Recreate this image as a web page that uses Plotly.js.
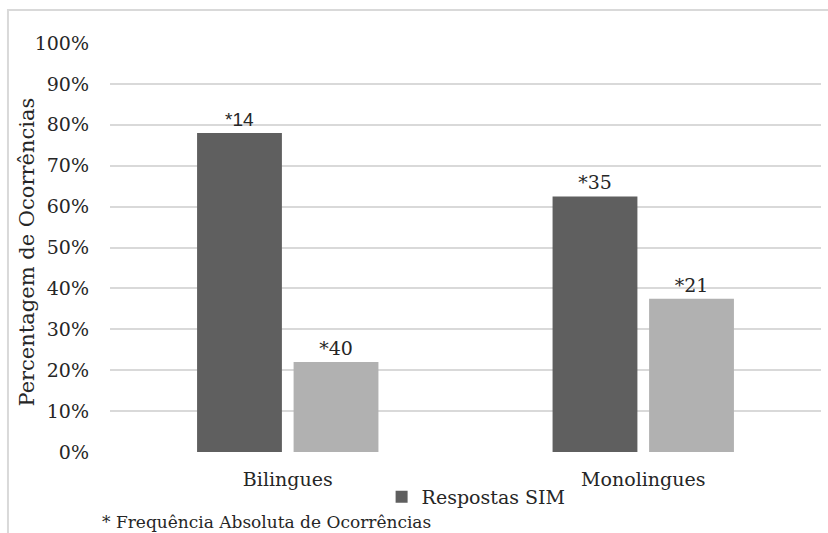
<!DOCTYPE html>
<html>
<head>
<meta charset="utf-8">
<script src="https://cdn.plot.ly/plotly-3.0.1.min.js"></script>
<style>
  html, body { margin: 0; padding: 0; background: #ffffff; }
  #chart { width: 828px; height: 533px; }
</style>
</head>
<body>
<div id="chart"></div>
<script>
// Groups compared
const categories = ['Bilingues', 'Monolingues'];

// Share of occurrences (%) per answer type
const simPercent = [78, 62.5];
const naoPercent = [22, 37.5];

// Absolute frequencies written above each bar
const simFreq = ['*14', '*35'];
const naoFreq = ['*40', '*21'];

// Y axis ticks
const yTickVals = [0, 10, 20, 30, 40, 50, 60, 70, 80, 90, 100];
const yTickText = ['0%', '10%', '20%', '30%', '40%', '50%', '60%', '70%', '80%', '90%', '100%'];

const serif = 'DejaVu Serif';
const sans = 'Liberation Sans';
const textColor = '#262626';
const fs = 19;

const traces = [
  {
    type: 'bar',
    name: 'Respostas SIM',
    x: categories,
    y: simPercent,
    text: simFreq,
    textposition: 'outside',
    textfont: { family: [sans, serif], size: [19, 19], color: textColor },
    marker: { color: '#5f5f5f' },
    cliponaxis: false,
    hoverinfo: 'skip'
  },
  {
    type: 'bar',
    name: 'Respostas NÃO',
    x: categories,
    y: naoPercent,
    text: naoFreq,
    textposition: 'outside',
    textfont: { family: serif, size: 19, color: textColor },
    marker: { color: '#b1b1b1' },
    cliponaxis: false,
    showlegend: false,
    hoverinfo: 'skip'
  }
];

const layout = {
  width: 828,
  height: 533,
  margin: { l: 110, r: 7, t: 43, b: 81 },
  paper_bgcolor: '#ffffff',
  plot_bgcolor: '#ffffff',
  font: { family: serif, size: fs, color: textColor },
  barmode: 'group',
  bargap: 0.457,
  bargroupgap: 0.121,
  xaxis: {
    showline: false,
    showgrid: false,
    zeroline: false,
    ticks: '',
    ticklabelstandoff: 14,
    tickfont: { family: serif, size: fs, color: textColor }
  },
  yaxis: {
    range: [0, 100],
    tickvals: yTickVals,
    ticktext: yTickText,
    showgrid: true,
    gridcolor: '#d9d9d9',
    gridwidth: 2,
    zeroline: false,
    showline: false,
    ticks: '',
    ticklabelstandoff: 20,
    tickfont: { family: serif, size: fs, color: textColor }
  },
  showlegend: true,
  legend: {
    orientation: 'h',
    x: 0.382,
    xanchor: 'left',
    y: -0.11,
    yanchor: 'middle',
    font: { family: serif, size: fs, color: textColor },
    bgcolor: 'rgba(0,0,0,0)'
  },
  annotations: [
    {
      text: 'Percentagem de Ocorrências',
      xref: 'paper', yref: 'paper',
      x: -0.1168, y: 0.49,
      xanchor: 'center', yanchor: 'middle',
      textangle: -90,
      showarrow: false,
      font: { family: serif, size: 21, color: textColor }
    },
    {
      text: '* Frequência Absoluta de Ocorrências',
      xref: 'paper', yref: 'paper',
      x: -0.014, y: -0.17,
      xanchor: 'left', yanchor: 'middle',
      showarrow: false,
      font: { family: serif, size: 17, color: textColor }
    }
  ],
  shapes: [
    {
      type: 'rect',
      xref: 'paper', yref: 'paper',
      x0: -0.1435, x1: 1.02, y0: -0.3, y1: 1.0807,
      line: { color: '#d9d9d9', width: 2 },
      fillcolor: 'rgba(0,0,0,0)',
      layer: 'below'
    }
  ]
};

Plotly.newPlot('chart', traces, layout, { displayModeBar: false, staticPlot: true });
</script>
</body>
</html>
